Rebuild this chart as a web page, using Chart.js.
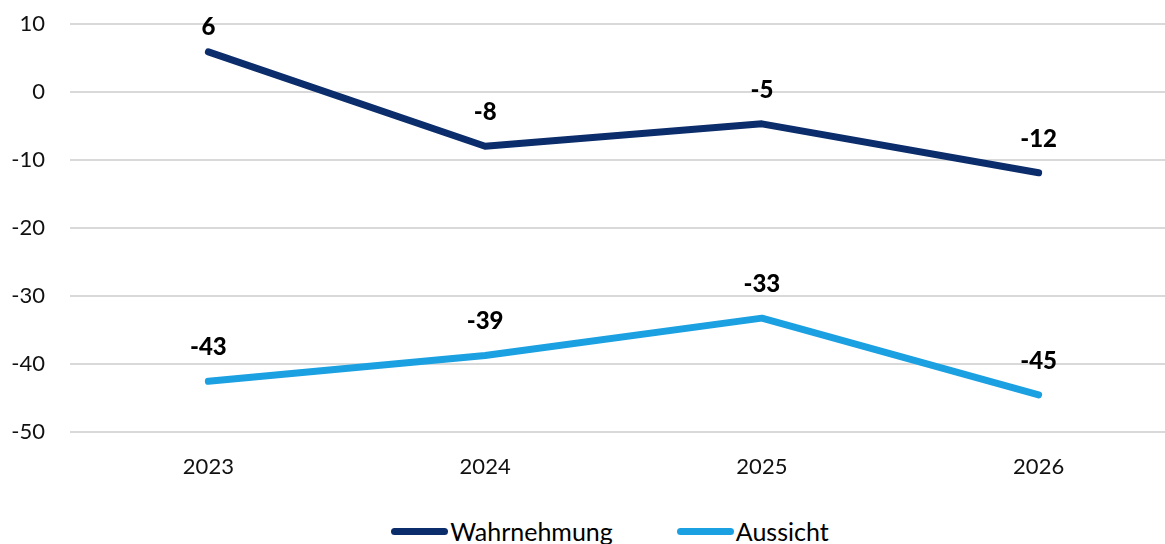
<!DOCTYPE html>
<html lang="de">
<head>
    <meta charset="UTF-8">
    <title>Wahrnehmung und Aussicht</title>
    <script src="https://cdn.jsdelivr.net/npm/chart.js"></script>
    <style>
        html, body { margin: 0; padding: 0; background: #fff; overflow: hidden; }
        #wrap { position: relative; width: 1220px; height: 544px; }
        #chartBox { position: absolute; left: 0; top: 0; width: 1220px; height: 494px; }
        #legend {
            position: absolute; left: 0; top: 516px; width: 1220px;
            display: flex; justify-content: center; align-items: center;
            font: 25px Lato, "Noto Sans", sans-serif; color: #000; line-height: 30px;
        }
        #legend .item { display: flex; align-items: center; margin: 0 32px; }
        #legend .mark { width: 57px; height: 7px; border-radius: 4px; margin-right: 2px; }
    </style>
</head>
<body>
    <div id="wrap">
        <div id="chartBox"><canvas id="myChart"></canvas></div>
        <div id="legend"></div>
    </div>
    <script>
        const years = ['2023', '2024', '2025', '2026'];
        const wahrnehmung = [5.9, -8, -4.7, -11.9];
        const aussicht = [-42.6, -38.8, -33.3, -44.6];

        const fontFamily = 'Lato, "Noto Sans", sans-serif';

        // Beschriftung der Punkte (wie Excel-Datenbeschriftungen oben)
        const pointLabels = {
            id: 'pointLabels',
            afterDatasetsDraw(chart) {
                const ctx = chart.ctx;
                const top = chart.chartArea.top;
                ctx.save();
                ctx.font = '900 24px ' + fontFamily;
                ctx.fillStyle = '#000';
                ctx.textAlign = 'center';
                ctx.textBaseline = 'middle';
                chart.data.datasets.forEach((ds, i) => {
                    chart.getDatasetMeta(i).data.forEach((pt, j) => {
                        const y = Math.max(pt.y - 34, top + 3);
                        ctx.fillText(String(Math.round(ds.data[j])), pt.x, y);
                    });
                });
                ctx.restore();
            }
        };

        const ctx = document.getElementById('myChart').getContext('2d');
        const chart = new Chart(ctx, {
            type: 'line',
            data: {
                labels: years,
                datasets: [{
                    label: 'Wahrnehmung',
                    data: wahrnehmung,
                    borderColor: '#0c2d6b',
                    backgroundColor: '#0c2d6b',
                    borderWidth: 7,
                    borderCapStyle: 'round',
                    borderJoinStyle: 'round',
                    pointRadius: 0,
                    tension: 0
                }, {
                    label: 'Aussicht',
                    data: aussicht,
                    borderColor: '#1ba1e2',
                    backgroundColor: '#1ba1e2',
                    borderWidth: 7,
                    borderCapStyle: 'round',
                    borderJoinStyle: 'round',
                    pointRadius: 0,
                    tension: 0
                }]
            },
            options: {
                responsive: true,
                maintainAspectRatio: false,
                animation: false,
                layout: { padding: { top: 24, left: 0, right: 0, bottom: 0 } },
                plugins: {
                    tooltip: { enabled: false },
                    legend: { display: false }
                },
                scales: {
                    x: {
                        offset: true,
                        grid: { display: false },
                        border: { display: false },
                        ticks: {
                            color: '#111',
                            padding: 14,
                            font: { family: fontFamily, size: 22 }
                        }
                    },
                    y: {
                        min: -50,
                        max: 10,
                        afterFit(scale) {
                            scale.width = 70;
                            scale.paddingTop = 0;
                            scale.paddingBottom = 0;
                        },
                        border: { display: false },
                        grid: { color: '#d9d9d9', lineWidth: 2, drawTicks: false },
                        ticks: {
                            stepSize: 10,
                            color: '#111',
                            padding: 25,
                            font: { family: fontFamily, size: 22 }
                        }
                    },
                    y2: {
                        position: 'right',
                        min: -50,
                        max: 10,
                        afterFit(scale) {
                            scale.width = 43;
                            scale.paddingTop = 0;
                            scale.paddingBottom = 0;
                        },
                        border: { display: false },
                        grid: { display: false },
                        ticks: { display: false }
                    }
                }
            },
            plugins: [pointLabels]
        });

        // Legende unten, aus den Datensätzen aufgebaut
        const legendEl = document.getElementById('legend');
        chart.data.datasets.forEach(ds => {
            const item = document.createElement('div');
            item.className = 'item';
            const mark = document.createElement('span');
            mark.className = 'mark';
            mark.style.background = ds.borderColor;
            const txt = document.createElement('span');
            txt.textContent = ds.label;
            item.appendChild(mark);
            item.appendChild(txt);
            legendEl.appendChild(item);
        });
    </script>
</body>
</html>
